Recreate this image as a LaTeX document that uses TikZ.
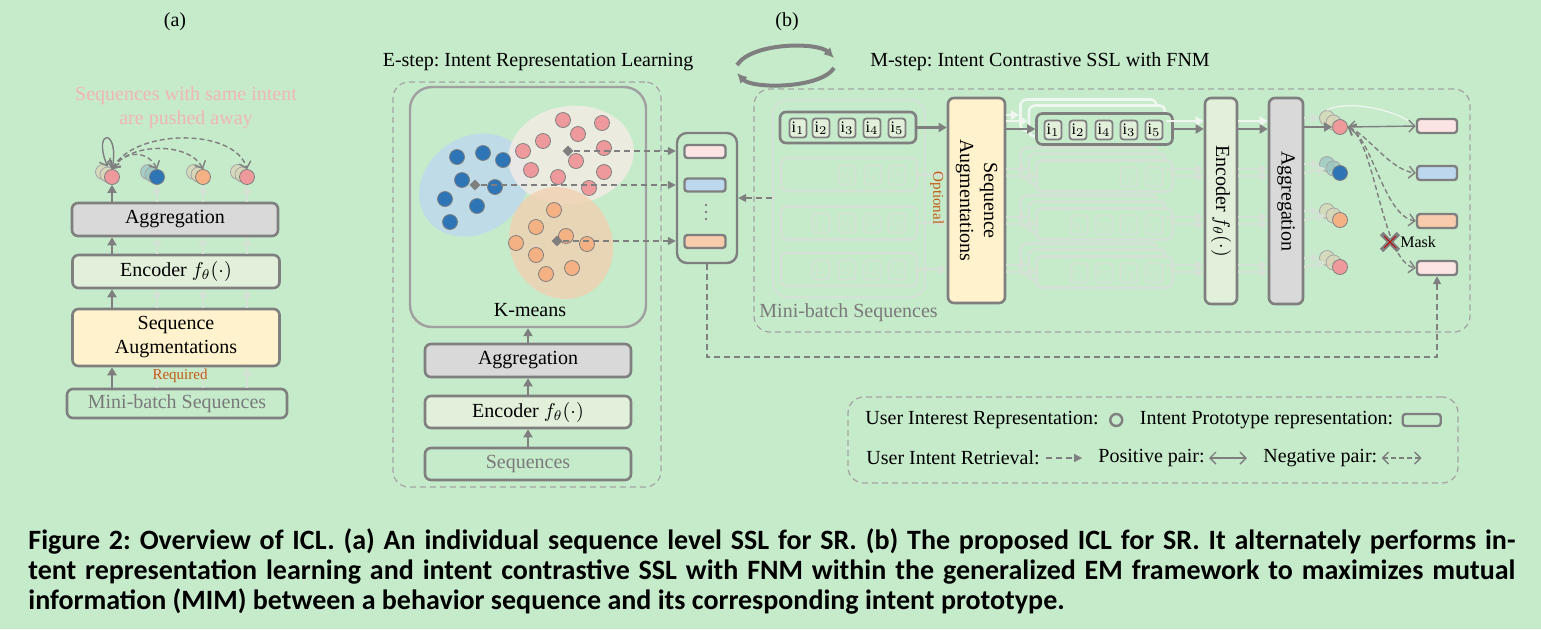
\documentclass[tikz,border=0pt]{standalone}
\usepackage{fontspec}
\setmainfont{Liberation Serif}
\newfontfamily\capfont{Carlito}
\usepackage{tikz}
\usetikzlibrary{arrows.meta,positioning,calc,shapes.geometric,shapes.misc}
\definecolor{iclbg}{HTML}{C6EBCB}
\definecolor{iclline}{HTML}{7F7F7F}
\definecolor{icldash}{HTML}{A3A3A3}
\definecolor{iclkm}{HTML}{A0A0A0}
\definecolor{iclfade}{HTML}{D4E2D5}
\definecolor{iclwhite}{HTML}{EEF6EF}
\definecolor{icltxt}{HTML}{7A7A7A}
\definecolor{iclagg}{HTML}{D9D9D9}
\definecolor{iclenc}{HTML}{E2EFDA}
\definecolor{iclaug}{HTML}{FFF2CC}
\definecolor{iclpink}{HTML}{EE9A9C}
\definecolor{iclblue}{HTML}{2E75B6}
\definecolor{iclorange}{HTML}{F4B183}
\definecolor{iclbeige}{HTML}{D8D6B9}
\definecolor{iclteal}{HTML}{9DC8C3}
\definecolor{iclppink}{HTML}{FCE4E4}
\definecolor{iclpblue}{HTML}{BDD7EE}
\definecolor{iclporange}{HTML}{F8CBAD}
\definecolor{iclcblue}{HTML}{BDD7EE}
\definecolor{iclcpink}{HTML}{F6ECE6}
\definecolor{iclcorange}{HTML}{F0D0B0}
\definecolor{iclred}{HTML}{C55A11}
\definecolor{iclpushed}{HTML}{F2B5B7}
\newcommand{\enc}{Encoder $f_{\theta}(\cdot)$}
% name, x, y, dx, dy, back colour, front colour
\newcommand{\repgroup}[7]{%
  \node[rep, fill=#6] (#1-a) at (#2-2*#4, #3-2*#5) {};
  \node[rep, fill=#6] (#1-b) at (#2-#4, #3-#5) {};
  \node[dot, fill=#7] (#1) at (#2, #3) {};}

\begin{document}
\frenchspacing
\begin{tikzpicture}[x=0.5pt, y=-0.5pt,
  font=\fontsize{10}{12}\selectfont,
  box/.style={draw=iclline, rounded corners=3pt, line width=1.3pt, align=center, inner sep=1pt},
  dbox/.style={draw=icldash, dash pattern=on 3pt off 2pt, rounded corners=8pt, line width=0.6pt},
  kbox/.style={draw=iclkm, rounded corners=11pt, line width=1.2pt},
  fbox/.style={draw=iclfade, rounded corners=7pt, line width=1pt},
  seqbox/.style={draw=iclline, fill=iclbg, rounded corners=3pt, line width=1.3pt,
                 minimum width=68pt, minimum height=15.5pt},
  fseqbox/.style={seqbox, draw=iclfade},
  wseqbox/.style={seqbox, draw=iclwhite},
  item/.style={draw=iclline, fill=iclenc, rounded corners=1.5pt, line width=0.9pt,
               minimum width=8.5pt, minimum height=9.5pt, inner sep=0pt, font=\fontsize{8}{9}\selectfont},
  fitem/.style={item, draw=iclfade, fill=iclbg, text=iclfade},
  dot/.style={circle, draw=iclline, line width=0.4pt, minimum size=7.5pt, inner sep=0pt},
  rep/.style={circle, draw=iclline!70, line width=0.4pt, fill opacity=0.8, minimum size=7.5pt, inner sep=0pt},
  cent/.style={diamond, fill=iclline, minimum size=5.5pt, inner sep=0pt},
  proto/.style={draw=iclline, rounded corners=1.5pt, line width=1.2pt,
                minimum width=20.5pt, minimum height=6.5pt, inner sep=0pt},
  pcol/.style={draw=iclline, rounded corners=5pt, line width=1.2pt},
  vdot/.style={circle, fill=iclline, minimum size=1.3pt, inner sep=0pt},
  arr/.style={-{Triangle[length=4pt,width=4.5pt]}, line width=1.2pt, draw=iclline},
  farr/.style={arr, draw=iclfade},
  warr/.style={arr, draw=iclwhite},
  dasharr/.style={-{Triangle[length=4pt,width=4pt]}, dash pattern=on 3pt off 2pt, line width=0.7pt, draw=iclline},
  posarr/.style={{Straight Barb[length=3pt,width=6pt]}-{Straight Barb[length=3pt,width=6pt]},
                 line width=0.7pt, draw=iclline},
  negarr/.style={posarr, dash pattern=on 2.5pt off 1.5pt},
  smalltxt/.style={font=\fontsize{7.5}{9}\selectfont, inner sep=0.5pt},
  steptitle/.style={inner sep=0pt},
  cyc/.style={-{Latex[length=5pt,width=5pt]}, line width=2pt, draw=iclline}
]
\fill[iclbg] (0,0) rectangle (1541,629);
\useasboundingbox (0,0) rectangle (1541,629);

% ---------------- (a) ----------------
\node (labA) at (175,22) {(a)};
\node[align=center, text=iclpushed] (pushA) at (186,108) {Sequences with same intent\\are pushed away};
\node[box, fill=iclagg, minimum width=103pt, minimum height=16.5pt] (aggA) at (175,219.5) {Aggregation};
\node[box, fill=iclenc, minimum width=103.5pt, minimum height=16.5pt] (encA) at (176,271.5) {\enc};
\node[box, fill=iclaug, minimum width=103.5pt, minimum height=28.5pt] (augA) at (176,337.5) {Sequence\\Augmentations};
\node[box, text=icltxt, minimum width=110pt, minimum height=14.5pt] (miniA) at (177,403.5) {Mini-batch Sequences};
\repgroup{pa1}{112}{177}{4.5}{2.5}{iclbeige}{iclpink}
\repgroup{pa2}{157}{177}{4.5}{2.5}{iclteal}{iclblue}
\repgroup{pa3}{203}{177}{4.5}{2.5}{iclbeige}{iclorange}
\repgroup{pa4}{247}{177}{4.5}{2.5}{iclbeige}{iclpink}
\draw[arr] (aggA.north -| pa1) -- (pa1.south);
\draw[arr] (encA.north -| pa1) -- (aggA.south -| pa1);
\draw[arr] (augA.north -| pa1) -- (encA.south -| pa1);
\draw[arr] (miniA.north -| pa1) -- (augA.south -| pa1);
\foreach \g in {2,3,4} {
  \draw[farr] (aggA.north -| pa\g) -- (pa\g.south);
  \draw[farr] (encA.north -| pa\g) -- (aggA.south -| pa\g);
  \draw[farr] (augA.north -| pa\g) -- (encA.south -| pa\g);
  \draw[farr] (miniA.north -| pa\g) -- (augA.south -| pa\g);
}
\node[smalltxt, text=iclred] (reqA) at (180,376) {Required};
\draw[posarr] (pa1-b.north) .. controls (92,128) and (120,128) .. (pa1.north);
\draw[negarr] (pa1.north) .. controls (125,150) and (148,150) .. (pa2.north);
\draw[negarr] (pa1.north) .. controls (130,142) and (190,142) .. (pa3.north);
\draw[negarr] (pa1.north) .. controls (135,128) and (235,128) .. (pa4.north);

% ---------------- (b) E-step ----------------
\node (labB) at (787,22) {(b)};
\node[steptitle] (etitle) at (538,62) {E-step: Intent Representation Learning};
\node[steptitle] (mtitle) at (1040,62) {M-step: Intent Contrastive SSL with FNM};
\draw[cyc] (737,65) .. controls (752,42) and (818,42) .. (834,58);
\draw[cyc] (834,68) .. controls (820,89) and (752,89) .. (737,73);

\node[dbox, minimum width=134pt, minimum height=202.5pt] (ebox) at (527,284.5) {};
\node[kbox, minimum width=118pt, minimum height=120pt] (kmeans) at (528,207) {};
\node (kmtxt) at (530,310) {K-means};
\fill[iclcblue, opacity=0.8, rotate around={35:(474,185)}] (474,185) ellipse [x radius=58, y radius=48];
\fill[iclcpink, opacity=0.8, rotate around={8:(571,155)}] (571,155) ellipse [x radius=63, y radius=49];
\fill[iclcorange, opacity=0.8, rotate around={-65:(561,243)}] (561,243) ellipse [x radius=57, y radius=51];
\foreach \x/\y [count=\k] in {457/157,483/153,503/160,462/180,495/187,445/199,477/206,450/222}
  \node[dot, fill=iclblue] (bd\k) at (\x,\y) {};
\foreach \x/\y [count=\k] in {563/120,602/123,578/134,543/141,604/148,523/151,576/161,531/170,558/177,604/172,589/188}
  \node[dot, fill=iclpink] (pd\k) at (\x,\y) {};
\foreach \x/\y [count=\k] in {554/210,536/227,566/236,516/243,587/244,536/255,572/268,546/274}
  \node[dot, fill=iclorange] (od\k) at (\x,\y) {};
\node[cent] (cpink) at (568,151) {};
\node[cent] (cblue) at (475,185) {};
\node[cent] (corange) at (557,241) {};

\node[pcol, minimum width=30pt, minimum height=65pt] (protos) at (707,198) {};
\node[proto, fill=iclppink] (ppink) at (705,151.5) {};
\node[proto, fill=iclpblue] (pblue) at (705,185) {};
\foreach \y [count=\k] in {205,212,219}
  \node[vdot] (pdot\k) at (706,\y) {};
\node[proto, fill=iclporange] (porange) at (705,241.5) {};
\draw[dasharr] (cpink) -- (cpink -| protos.west);
\draw[dasharr] (cblue) -- (cblue -| protos.west);
\draw[dasharr] (corange) -- (corange -| protos.west);

\node[box, fill=iclagg, minimum width=103pt, minimum height=16.5pt] (aggE) at (528,360.5) {Aggregation};
\node[box, fill=iclenc, minimum width=103pt, minimum height=16pt] (encE) at (528,412) {\enc};
\node[box, text=icltxt, minimum width=103pt, minimum height=16pt] (seqE) at (528,464) {Sequences};
\draw[arr] (seqE.north) -- (encE.south);
\draw[arr] (encE.north) -- (aggE.south);
\draw[arr] (aggE.north) -- (kmeans.south);

% ---------------- (b) M-step ----------------
\node[dbox, minimum width=358pt, minimum height=121.5pt] (mbox) at (1112,210.5) {};
\node[anchor=west, text=icltxt, inner sep=0pt] (minitxt) at (759,313) {Mini-batch Sequences};
\node[fbox, minimum width=76pt, minimum height=98.5pt] (batch) at (849,198.5) {};

\node[seqbox] (seq1) at (848,127.5) {};
\foreach \s/\x [count=\k] in {1/798,2/821,3/847,4/872,5/897}
  \node[item] (s1-\k) at (\x,128) {i$_{\s}$};
\node[fseqbox, minimum height=16.5pt] (fr1) at (849,174.5) {};
\node[fseqbox, minimum height=16.5pt] (fr2) at (849,223) {};
\node[fseqbox, minimum height=16.5pt] (fr3) at (849,269.5) {};
\foreach \s/\x [count=\k] in {5/847,6/873,7/897}
  \node[fitem] (f1-\k) at (\x,175) {i$_{\s}$};
\foreach \s/\x [count=\k] in {1/821,5/847,8/872,9/897}
  \node[fitem] (f2-\k) at (\x,223) {i$_{\s}$};
\foreach \s/\x [count=\k] in {1/821,2/847,4/872,3/897}
  \node[fitem] (f3-\k) at (\x,270) {i$_{\s}$};

\node[box, fill=iclaug, rotate=-90, minimum width=102.5pt, minimum height=28.5pt] (augM) at (976.5,200.5) {Sequence\\Augmentations};
\draw[arr] (seq1.east) -- (seq1.east -| augM.south);
\foreach \r in {1,2,3}
  \draw[farr] (fr\r.east) -- (fr\r.east -| augM.south);
\node[smalltxt, text=iclred, rotate=-90] (opt) at (937,198) {Optional};

% augmented views
\node[wseqbox] (aug1-b) at (1088.5,115) {};
\node[wseqbox] (aug1-m) at (1097,121) {};
\node[seqbox] (aug1) at (1104.5,129) {};
\foreach \s/\x [count=\k] in {1/1053,2/1078,4/1104,3/1129,5/1154}
  \node[item] (a1-\k) at (\x,130) {i$_{\s}$};
\foreach \r/\y in {1/176,2/224,3/272} {
  \node[fseqbox] (fa\r-b) at (1088.5,\y-13) {};
  \node[fseqbox] (fa\r-m) at (1097,\y-7) {};
  \node[fseqbox] (fa\r) at (1104.5,\y) {};
}
\foreach \s/\x [count=\k] in {6/1129,7/1154}
  \node[fitem] (g1-\k) at (\x,177) {i$_{\s}$};
\foreach \s/\x [count=\k] in {6/1079,5/1104,8/1129,1/1154}
  \node[fitem] (g2-\k) at (\x,225) {i$_{\s}$};
\foreach \s/\x [count=\k] in {1/1079,7/1104,4/1129,3/1154}
  \node[fitem] (g3-\k) at (\x,273) {i$_{\s}$};

\node[box, fill=iclenc, rotate=-90, minimum width=103pt, minimum height=16pt] (encM) at (1221,201) {\enc};
\node[box, fill=iclagg, rotate=-90, minimum width=103pt, minimum height=17pt] (aggM) at (1286,201) {Aggregation};

\draw[warr] (aug1-b.west -| augM.north) -- (aug1-b.west);
\draw[warr] (aug1-m.west -| augM.north) -- (aug1-m.west);
\draw[arr] (aug1.west -| augM.north) -- (aug1.west);
\draw[warr] (aug1-m.east) -- (aug1-m.east -| encM.south);
\draw[arr] (aug1.east) -- (aug1.east -| encM.south);
\foreach \r in {1,2,3} {
  \draw[farr] (fa\r-m.west -| augM.north) -- (fa\r-m.west);
  \draw[farr] (fa\r.west -| augM.north) -- (fa\r.west);
  \draw[farr] (fa\r-m.east) -- (fa\r-m.east -| encM.south);
  \draw[farr] (fa\r.east) -- (fa\r.east -| encM.south);
  \draw[farr] (fa\r-m.east -| encM.north) -- (fa\r-m.east -| aggM.south);
  \draw[farr] (fa\r.east -| encM.north) -- (fa\r.east -| aggM.south);
}
\draw[warr] (aug1-m.east -| encM.north) -- (aug1-m.east -| aggM.south);
\draw[arr] (aug1.east -| encM.north) -- (aug1.east -| aggM.south);

% user interest representations
\repgroup{q1}{1340}{127}{6.5}{4.5}{iclbeige}{iclpink}
\repgroup{q2}{1340}{173}{6.5}{4.5}{iclteal}{iclblue}
\repgroup{q3}{1340}{220}{6.5}{4.5}{iclbeige}{iclorange}
\repgroup{q4}{1340}{267}{6.5}{4.5}{iclbeige}{iclpink}
\draw[farr] (aggM.north |- q1-a) -- (q1-a.west);
\draw[arr] (aggM.north |- q1) -- (q1.west);
\foreach \g in {2,3,4} {
  \draw[farr] (aggM.north |- q\g-a) -- (q\g-a.west);
  \draw[farr] (aggM.north |- q\g) -- (q\g-b.west);
}

% intent prototypes
\node[proto, fill=iclppink, minimum width=20pt, minimum height=7pt] (r1) at (1437,126) {};
\node[proto, fill=iclpblue, minimum width=20pt, minimum height=7pt] (r2) at (1437,173) {};
\node[proto, fill=iclporange, minimum width=20pt, minimum height=7pt] (r3) at (1437,221) {};
\node[proto, fill=iclppink, minimum width=20pt, minimum height=7pt] (r4) at (1437,268) {};
\draw[iclwhite, line width=0.6pt] (q1-a.north) .. controls (1345,100) and (1395,108) .. (r1.west);
\draw[posarr] (q1.east) -- (r1.west);
\draw[negarr] (q1.east) .. controls (1368,135) and (1390,170) .. (r2.west);
\draw[negarr] (q1.east) .. controls (1372,138) and (1384,216) .. (r3.west);
\draw[negarr] (q1.east) .. controls (1375,140) and (1382,262) .. (r4.west);
\node[draw=iclline, cross out, line width=2.4pt, minimum size=6pt, inner sep=0pt] (maskx) at (1390,242) {};
\node[draw=red!75!black, cross out, line width=0.4pt, minimum size=5.5pt, inner sep=0pt] (maskr) at (1390,242) {};
\node[anchor=west, inner sep=0pt, font=\fontsize{8}{9}\selectfont] (masktxt) at (1400,242) {Mask};

% retrieval paths
\draw[dasharr] (batch.west |- protos.east) -- (protos.east);
\coordinate (fbturn) at (707,357);
\draw[dasharr] (protos.south) -- (fbturn) -| (r4.south);

% ---------------- legend ----------------
\node[dbox, minimum width=305pt, minimum height=43pt] (legend) at (1153,440) {};
\node[anchor=west, inner sep=0pt] (lgint) at (865,420) {User Interest Representation:};
\node[circle, draw=iclline, line width=1.2pt, minimum size=6pt, inner sep=0pt, right=5pt of lgint] (lgc) {};
\node[inner sep=0pt, right=8pt of lgc] (lgpro) {Intent Prototype representation:};
\node[proto, minimum width=19pt, minimum height=6pt, right=4pt of lgpro] (lgr) {};
\node[anchor=west, inner sep=0pt] (lgret) at (866,458) {User Intent Retrieval:};
\coordinate[right=3pt of lgret] (lgret1);
\coordinate[right=18pt of lgret1] (lgret2);
\draw[dasharr] (lgret1) -- (lgret2);
\node[inner sep=0pt, right=8pt of lgret2] (lgpos) {Positive pair:};
\coordinate[right=2pt of lgpos] (lgpos1);
\coordinate[right=19pt of lgpos1] (lgpos2);
\draw[posarr] (lgpos1) -- (lgpos2);
\node[inner sep=0pt, right=8pt of lgpos2] (lgneg) {Negative pair:};
\coordinate[right=2pt of lgneg] (lgneg1);
\coordinate[right=20pt of lgneg1] (lgneg2);
\draw[negarr] (lgneg1) -- (lgneg2);

% ---------------- caption ----------------
\node[anchor=base west, text width=743.5pt, align=justify, inner sep=0pt,
      font=\capfont\bfseries\fontsize{14}{15}\selectfont] (caption) at (28,549)
  {Figure 2: Overview of ICL. (a) An individual sequence level SSL for SR. (b) The proposed ICL for SR. It alternately performs in-\linebreak tent representation learning and intent contrastive SSL with FNM within the generalized EM framework to maximizes mutual\linebreak information (MIM) between a behavior sequence and its corresponding intent prototype.};
\end{tikzpicture}
\end{document}
